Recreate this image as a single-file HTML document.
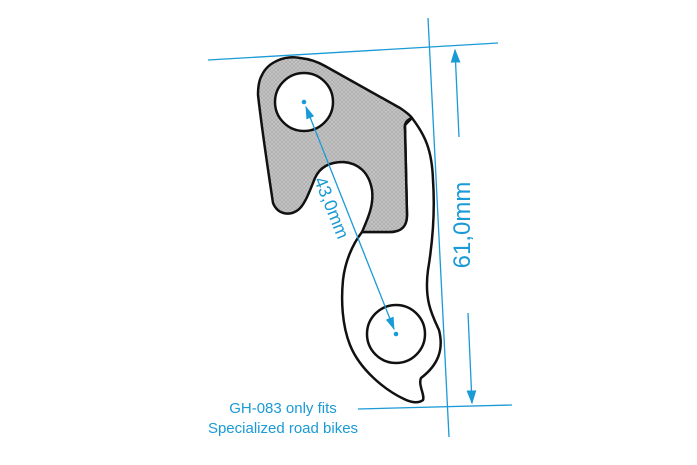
<!DOCTYPE html>
<html><head><meta charset="utf-8"><style>
html,body{margin:0;padding:0;background:#fff;}
svg{display:block}
</style></head><body>
<svg width="697" height="465" viewBox="0 0 697 465" xmlns="http://www.w3.org/2000/svg">
<defs>
<pattern id="h" width="4" height="4" patternUnits="userSpaceOnUse">
<rect width="4" height="4" fill="#c4c4c4"/>
<path d="M0 4L4 0M0 0L4 4" stroke="#a8a8a8" stroke-width="0.6"/>
</pattern>
<marker id="a" viewBox="0 0 10 10" refX="9" refY="5" markerUnits="userSpaceOnUse" markerWidth="14" markerHeight="14" orient="auto-start-reverse"><path d="M0 1.5L10 5L0 8.5z" fill="#1a9ad6"/></marker>
<marker id="b" viewBox="0 0 10 10" refX="9" refY="5" markerUnits="userSpaceOnUse" markerWidth="13" markerHeight="13" orient="auto-start-reverse"><path d="M0 1.8L10 5L0 8.2z" fill="#1a9ad6"/></marker>
</defs>
<g stroke="#1a9ad6" stroke-width="1.3" fill="none">
<line x1="208" y1="60" x2="498" y2="43"/>
<line x1="428" y1="18" x2="449" y2="437"/>
<line x1="358" y1="409" x2="512" y2="405"/>
</g>
<path d="M412 118 C425 135 432 150 433 180 C435 210 433 240 428 270 C424 300 432 315 439 330 C444 350 438 365 421 378 C418 385 425 395 423 400 C418 404 410 402 404 399 C385 390 360 370 350 345 C342 325 341 300 343 280 C345 262 352 245 362 232 L393 232 C403 230 407 225 407 215 L405 125 Z" fill="#fff" stroke="#111" stroke-width="2.5" stroke-linejoin="round"/>
<path d="M262 75 C268 62 285 55 300 58 C310 59 318 62 325 66 L400 108 C406 112 410 115 412 118 C406 120 404 124 405 130 L407 215 C407 225 403 232 390 232 L362 232 C368 218 374 205 372 190 C369 172 358 163 343 162 C330 162 320 167 315 178 C310 190 305 205 298 210 C290 216 278 215 273 203 C268 170 262 130 258 95 C258 87 259 80 262 75 Z" fill="url(#h)" stroke="#111" stroke-width="2.5" stroke-linejoin="round"/>
<circle cx="304" cy="102" r="29" fill="#fff" stroke="#111" stroke-width="2.5"/>
<circle cx="396" cy="334" r="29" fill="#fff" stroke="#111" stroke-width="2.5"/>
<circle cx="304" cy="102" r="2.3" fill="#1a9ad6"/>
<circle cx="396" cy="334" r="2.3" fill="#1a9ad6"/>
<line x1="306" y1="107" x2="394" y2="329" stroke="#1a9ad6" stroke-width="1.3" marker-start="url(#b)" marker-end="url(#b)"/>
<line x1="459" y1="137" x2="455" y2="50" stroke="#1a9ad6" stroke-width="1.3" marker-end="url(#a)"/>
<line x1="468" y1="313" x2="472" y2="403" stroke="#1a9ad6" stroke-width="1.3" marker-end="url(#a)"/>
<text x="0" y="0" transform="translate(326,210) rotate(68)" text-anchor="middle" font-family="Liberation Sans, sans-serif" font-size="18" fill="#1a9ad6">43,0mm</text>
<text x="0" y="0" transform="translate(470,225) rotate(-90)" text-anchor="middle" font-family="Liberation Sans, sans-serif" font-size="24" fill="#1a9ad6">61,0mm</text>
<text x="283" y="413" text-anchor="middle" font-family="Liberation Sans, sans-serif" font-size="15" fill="#1a9ad6">GH-083 only fits</text>
<text x="283" y="433" text-anchor="middle" font-family="Liberation Sans, sans-serif" font-size="15" fill="#1a9ad6">Specialized road bikes</text>
</svg>
</body></html>
